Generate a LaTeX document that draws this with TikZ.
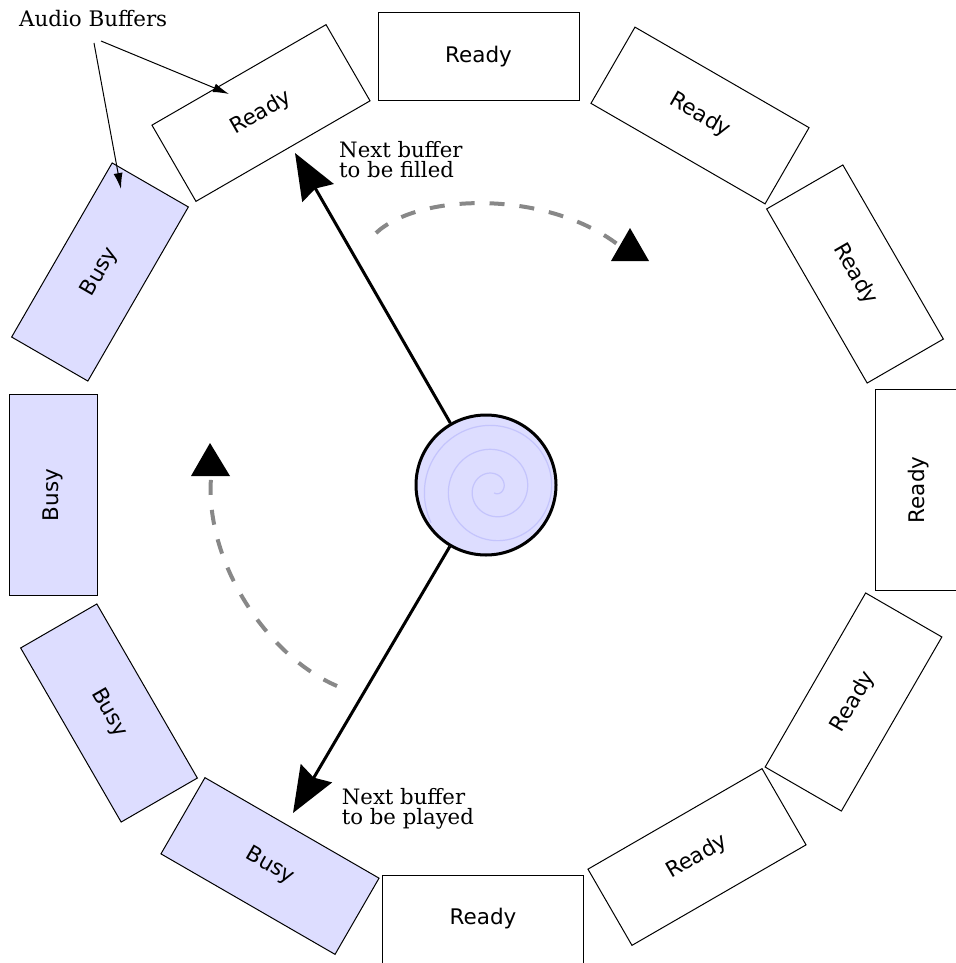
\documentclass[tikz,border=0pt]{standalone}
\usepackage{fontspec}
\setmainfont{DejaVu Serif}
\setsansfont{DejaVu Sans}
\usetikzlibrary{arrows.meta}
\definecolor{busyfill}{RGB}{221,221,255}
\definecolor{spiralc}{RGB}{196,196,252}
\definecolor{dashc}{RGB}{136,136,136}
\begin{document}
\begin{tikzpicture}[x=1pt,y=-1pt,
  buf/.style={draw=black, line width=1pt, minimum width=201pt, minimum height=88pt,
    inner sep=0pt, font=\sffamily\fontsize{21.5}{24}\selectfont},
  busybuf/.style={buf, fill=busyfill},
  hubstyle/.style={circle, draw=black, line width=3pt, fill=busyfill, minimum size=140pt, inner sep=0pt},
  bigarrow/.style={line width=3pt, -{Stealth[length=46pt,width=36pt,inset=5pt]}},
  thinarrow/.style={line width=1pt, -{Latex[length=16pt,width=9pt]}},
  dasharc/.style={dashc, line width=4pt, dash pattern=on 15pt off 15pt},
  labeltext/.style={inner sep=0pt, font=\fontsize{21.4}{20}\selectfont},
  notetext/.style={inner sep=0pt, align=left, font=\fontsize{21.2}{20}\selectfont}]
\useasboundingbox (0,0) rectangle (955,963);

% buffers
\node[buf] (b1) at (478.5,57) {Ready};
\node[buf,rotate=-30] (b2) at (700,115.5) {Ready};
\node[buf,rotate=-60] (b3) at (855,274) {Ready};
\node[buf,rotate=90] (b4) at (919,490) {Ready};
\node[buf,rotate=60] (b5) at (853.5,702) {Ready};
\node[buf,rotate=30] (b6) at (697,857) {Ready};
\node[buf] (b7) at (483,919) {Ready};
\node[busybuf,rotate=-30] (b8) at (270,866) {Busy};
\node[busybuf,rotate=-60] (b9) at (109,713) {Busy};
\node[busybuf,rotate=90] (b10) at (53,495) {Busy};
\node[busybuf,rotate=60] (b11) at (100,272) {Busy};
\node[buf,rotate=30] (b12) at (261,113) {Ready};

% hub with spiral
\node[hubstyle] (hub) at (486,485) {};
\draw[spiralc, line width=1.2pt] plot[domain=-1.5:16.2, samples=400, smooth, variable=\t]
  ({494+(9.5+3.82*\t)*cos(\t r)}, {489-(9.5+3.82*\t)*sin(\t r)});

% pointers
\coordinate (tipF) at (295,153);
\coordinate (tipP) at (293,813);
\draw[bigarrow] (hub) -- (tipF);
\draw[bigarrow] (hub) -- (tipP);

% rotation arcs
\coordinate (a1s) at (376,233);
\coordinate (a1e) at (621,247);
\draw[dasharc] (a1s) .. controls (420,192) and (550,190) .. (a1e);
\fill (630,228) -- (649,261) -- (611,261) -- cycle;
\coordinate (a2s) at (337,686);
\coordinate (a2e) at (211,478);
\draw[dasharc] (a2s) .. controls (265,655) and (205,560) .. (a2e);
\fill (210,443) -- (230,476) -- (191,476) -- cycle;

% labels
\node[labeltext, anchor=base west] (lbl) at (19,26.7) {Audio Buffers};
\coordinate (ab1s) at (101,41);
\coordinate (ab1e) at (229,94);
\coordinate (ab2s) at (94,43);
\coordinate (ab2e) at (121,189);
\draw[thinarrow] (ab1s) -- (ab1e);
\draw[thinarrow] (ab2s) -- (ab2e);

\node[notetext, anchor=north west] (nf) at (339,141) {Next buffer\\to be filled};
\node[notetext, anchor=north west] (np) at (341.7,787.7) {Next buffer\\to be played};
\end{tikzpicture}
\end{document}
